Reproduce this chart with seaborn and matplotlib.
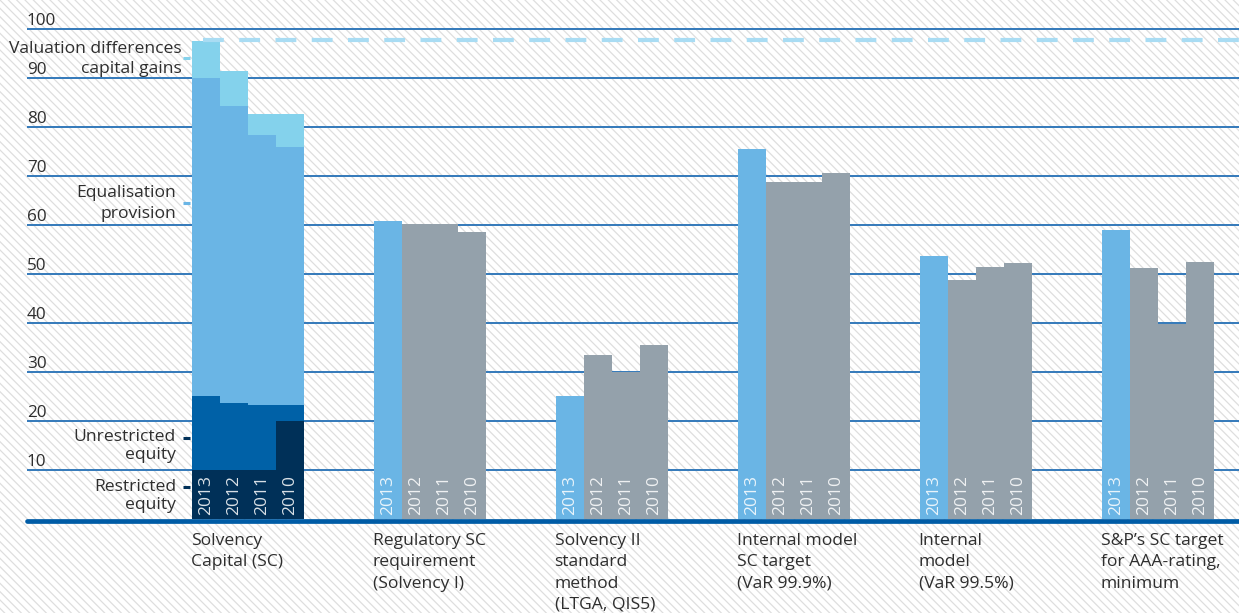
import matplotlib
matplotlib.use("Agg")
import matplotlib.pyplot as plt
from matplotlib.patches import Rectangle
import seaborn as sns
import pandas as pd
import numpy as np

# ---------------- data ----------------
years = ["2013", "2012", "2011", "2010"]
restricted_equity = [9.9, 9.9, 10.1, 20.0]
unrestricted_equity = [15.2, 13.7, 13.2, 3.3]
equalisation_provision = [65.0, 60.7, 55.1, 52.7]
valuation_differences = [7.4, 7.1, 4.3, 6.7]

groups = [
    "Regulatory SC\nrequirement\n(Solvency I)",
    "Solvency II\nstandard\nmethod\n(LTGA, QIS5)",
    "Internal model\nSC target\n(VaR 99.9%)",
    "Internal\nmodel\n(VaR 99.5%)",
    "S&P\u2019s SC target\nfor AAA-rating,\nminimum",
]
regulatory_sc = [60.8, 60.2, 60.2, 58.6]
solvency_ii = [25.1, 33.5, 30.0, 35.5]
internal_999 = [75.5, 68.8, 68.8, 70.6]
internal_995 = [53.7, 48.8, 51.4, 52.2]
sp_aaa = [59.0, 51.2, 39.8, 52.4]
sc_label = "Solvency\nCapital (SC)"
target_line = 97.7
yticks = [10, 20, 30, 40, 50, 60, 70, 80, 90, 100]

# ---------------- style ----------------
sns.set_theme(style="white")
plt.rcParams["font.family"] = ["Open Sans", "DejaVu Sans"]
plt.rcParams["hatch.linewidth"] = 0.9
plt.rcParams["hatch.color"] = "#dedede"

C_BLUE = "#6ab5e5"
C_CYAN = "#84d2ec"
C_DARK = "#0061a7"
C_NAVY = "#003058"
C_GRAY = "#94a1ab"
C_GRID = "#3379ba"
C_BASE = "#005ca6"
C_DASH = "#a9dcf3"
C_TEXT = "#2e2e2e"
FS = 12.6

W, H = 1239, 613
fig = plt.figure(figsize=(W / 100, H / 100), dpi=100)
fig.patch.set_facecolor("white")

# hatched background
bg = fig.add_axes([0, 0, 1, 1], zorder=-5)
bg.set_axis_off()
bg.add_patch(Rectangle((0, 0), 1, 1, transform=bg.transAxes, facecolor="white",
                       edgecolor="#dedede", hatch=r"\\\\", linewidth=0.0))

left_px, base_px = 27, 519
ax = fig.add_axes([left_px / W, (H - base_px) / H, (W - left_px) / W, base_px / H])
ax.set_facecolor("none")

GROUP_STEP = 6.5
ypx = 4.9  # px per unit

# stacked group
n = len(years)
xs0 = np.arange(n, dtype=float)
r = np.array(restricted_equity)
u = np.array(unrestricted_equity)
e = np.array(equalisation_provision)
v = np.array(valuation_differences)
layers = [(r + u + e + v, C_CYAN), (r + u + e, C_BLUE), (r + u, C_DARK), (r, C_NAVY)]
for vals, col in layers:
    d = pd.DataFrame({"x": xs0, "v": vals})
    sns.barplot(data=d, x="x", y="v", native_scale=True, width=1, color=col,
                saturation=1, linewidth=0, edgecolor="none", errorbar=None,
                ax=ax, zorder=3)

# comparison groups
series = [regulatory_sc, solvency_ii, internal_999, internal_995, sp_aaa]
rows = []
for g, vals in enumerate(series, start=1):
    for i, (yr, val) in enumerate(zip(years, vals)):
        rows.append({"x": g * GROUP_STEP + i, "v": val, "year": yr,
                     "kind": "cur" if yr == "2013" else "prev"})
dfc = pd.DataFrame(rows)
sns.barplot(data=dfc, x="x", y="v", hue="kind", palette={"cur": C_BLUE, "prev": C_GRAY},
            native_scale=True, width=1, dodge=False, saturation=1, linewidth=0,
            edgecolor="none", errorbar=None, legend=False, ax=ax, zorder=3)

# axes limits
xl = -0.5 - (192 - left_px) / 28.0
ax.set_xlim(xl, xl + (W - left_px) / 28.0)
ax.set_ylim(0, base_px / ypx)
ax.set_xticks([])
ax.set_yticks([])
ax.set_xlabel("")
ax.set_ylabel("")
for s in ax.spines.values():
    s.set_visible(False)

# grid lines and y labels
for t in yticks:
    ax.axhline(t, color=C_GRID, lw=1.4, zorder=1)
    ax.text(0, t + 0.75, str(t), transform=ax.get_yaxis_transform(),
            ha="left", va="baseline", fontsize=12.3, color=C_TEXT)
ax.axhline(-0.35, color=C_BASE, lw=3.4, zorder=5, clip_on=False)

# dashed target line
ax.plot([(203 - 206) / 28.0, ax.get_xlim()[1]], [target_line, target_line],
        color=C_DASH, lw=3, dashes=[5, 3.7], solid_capstyle="butt",
        dash_capstyle="butt", zorder=6)

# year labels inside bars
for g in range(6):
    for i, yr in enumerate(years):
        ax.text(g * GROUP_STEP + i, 0.8, yr, rotation=90, ha="center", va="bottom",
                fontsize=12.5, color="white", alpha=0.85, zorder=7)

# category labels
labels = [sc_label] + groups
for g, lab in enumerate(labels):
    for k, line in enumerate(lab.split("\n")):
        ax.text(g * GROUP_STEP - 0.55, -(545 + 21.3 * k - base_px) / ypx, line,
                ha="left", va="baseline", fontsize=FS, color=C_TEXT, clip_on=False)

# left annotations
def xpx(px):
    return (px - 206) / 28.0

def ypos(px):
    return (base_px - px) / ypx

ann = [
    (["Valuation differences", "capital gains"], [53.3, 73.3], 182, 58, C_CYAN),
    (["Equalisation", "provision"], [196.7, 218.3], 176, 203, C_BLUE),
    (["Unrestricted", "equity"], [440.7, 459.3], 176, 438, C_NAVY),
    (["Restricted", "equity"], [490.7, 509.3], 176, 487, C_NAVY),
]
for lines, bls, rx, ty, col in ann:
    for line, bl in zip(lines, bls):
        ax.text(xpx(rx), ypos(bl), line, ha="right", va="baseline",
                fontsize=FS, color=C_TEXT, zorder=7)
    ax.plot([xpx(183), xpx(190)], [ypos(ty), ypos(ty)], color=col, lw=2.2,
            solid_capstyle="butt", zorder=7)

fig.savefig("out.png", dpi=100)
